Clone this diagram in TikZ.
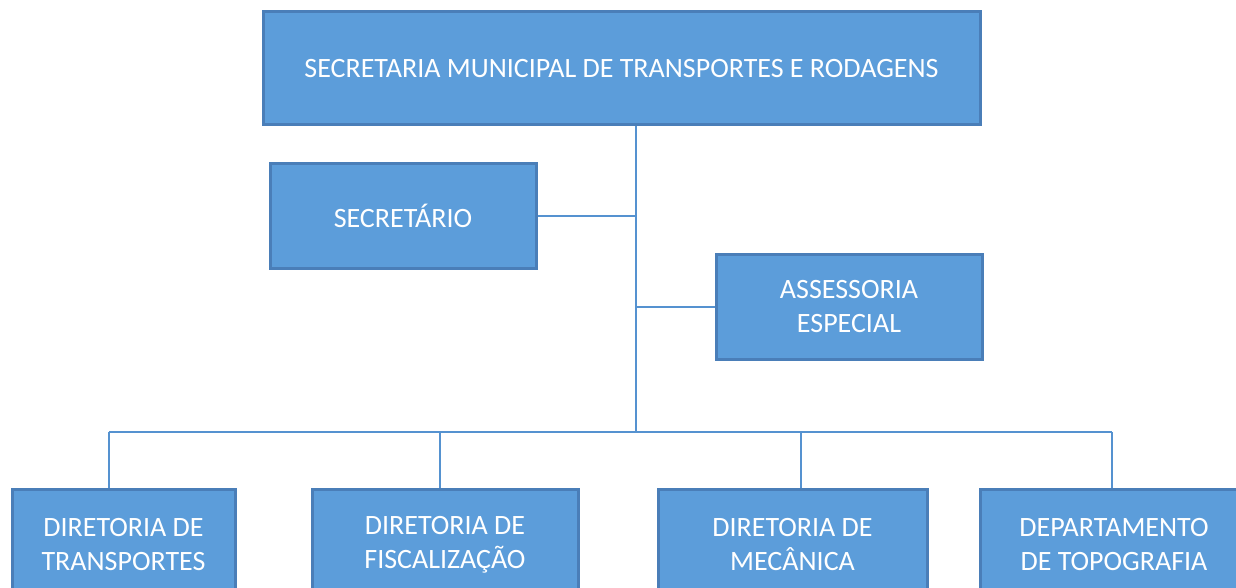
\documentclass[tikz,border=0pt]{standalone}
\usepackage{fontspec}
\setmainfont{Carlito}
\usepackage{xcolor}
\usetikzlibrary{positioning}
\definecolor{boxfill}{HTML}{5C9DDA}
\definecolor{boxline}{HTML}{4A7EB8}
\definecolor{linkline}{HTML}{5592D0}

\begin{document}
\begin{tikzpicture}[x=1pt, y=-1pt,
    orgbox/.style={draw=boxline, line width=3pt, fill=boxfill, text=white,
        align=center, inner sep=0pt, font=\fontsize{28}{34}\selectfont},
    link/.style={draw=linkline, line width=2pt}]
\useasboundingbox (0,0) rectangle (1236,588);
\clip (0,0) rectangle (1236,588);
% top level
\node[orgbox, minimum width=717pt, minimum height=113pt] (secretaria) at (621.5,68.5)
    {SECRETARIA MUNICIPAL DE TRANSPORTES E RODAGENS};%
\node[orgbox, minimum width=266pt, minimum height=104pt] (secretario) at (403,216)
    {SECRETÁRIO};%
\node[orgbox, minimum width=266pt, minimum height=105pt] (assessoria) at (849,307)
    {ASSESSORIA\\ESPECIAL};%
% directorates (cut off at the bottom)
\node[orgbox, minimum width=223pt, minimum height=112pt] (transportes) at (123.5,545)
    {DIRETORIA DE\\TRANSPORTES};%
\node[orgbox, minimum width=266pt, minimum height=112pt] (fiscalizacao) at (445,545)
    {DIRETORIA DE\\FISCALIZAÇÃO};%
\node[orgbox, minimum width=269pt, minimum height=112pt] (mecanica) at (792.5,545)
    {DIRETORIA DE\\MECÂNICA};%
\node[orgbox, minimum width=268pt, minimum height=112pt] (topografia) at (1114,545)
    {DEPARTAMENTO\\DE TOPOGRAFIA};%
% connectors
\coordinate (trunk) at (636,432);
\coordinate (bus1) at (109,432);
\coordinate (bus2) at (440,432);
\coordinate (bus3) at (801,432);
\coordinate (bus4) at (1112,432);
\draw[link] (secretaria.south -| trunk) -- (trunk);
\draw[link] (secretario.east) -- (secretario.east -| trunk);
\draw[link] (assessoria.west) -- (assessoria.west -| trunk);
\draw[link] (bus1) -- (bus4);
\draw[link] (bus1) -- (bus1 |- transportes.north);
\draw[link] (bus2) -- (bus2 |- fiscalizacao.north);
\draw[link] (bus3) -- (bus3 |- mecanica.north);
\draw[link] (bus4) -- (bus4 |- topografia.north);
\end{tikzpicture}
\end{document}
